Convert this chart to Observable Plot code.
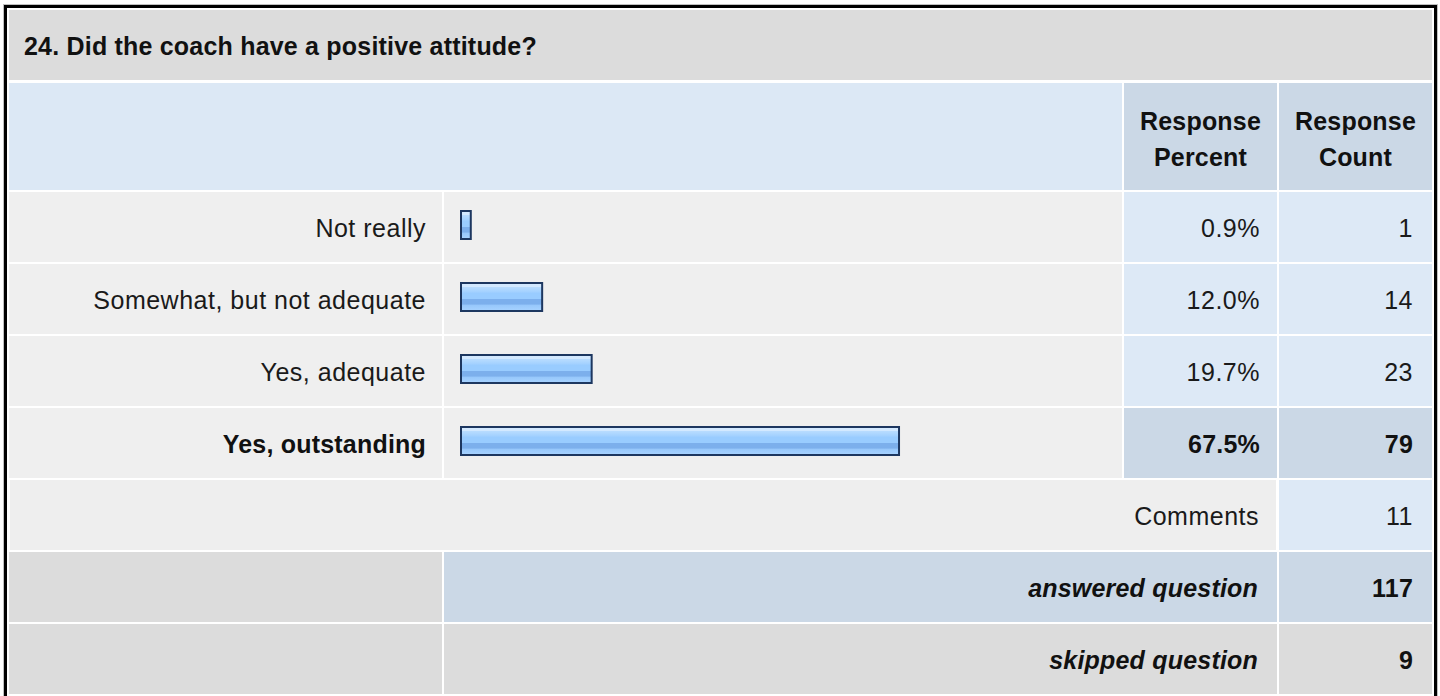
<!DOCTYPE html>
<html>
<head>
<meta charset="utf-8">
<script src="https://cdn.jsdelivr.net/npm/d3@7"></script>
<script src="https://cdn.jsdelivr.net/npm/@observablehq/plot@0.6"></script>
<style>
html, body { margin: 0; padding: 0; background: #fff; overflow: hidden; width: 1440px; height: 696px; }
body { position: relative; font-family: "Liberation Sans", Arial, Helvetica, sans-serif; color: #1a1a1a; }
.frame { position: absolute; left: 4px; top: 5px; width: 1433px; height: 694px; box-sizing: border-box; border: 3px solid #000; box-shadow: 0 0 0 1px rgba(0,0,0,0.25); }
.cell { position: absolute; display: flex; align-items: center; box-sizing: border-box; font-size: 25px; line-height: 36px; padding-top: 1px; letter-spacing: 0.5px; }
.right { justify-content: flex-end; padding-right: 17px; text-align: right; }
.center { justify-content: center; text-align: center; }
.bold { font-weight: bold; color: #111; letter-spacing: 0.2px; }
.ital { font-style: italic; }
#bars { position: absolute; left: 444px; top: 192px; }
</style>
</head>
<body>
<div class="frame"></div>
<div id="table"></div>
<div id="bars"></div>
<script>
// ---- data ----
const questionTitle = "24. Did the coach have a positive attitude?";
const headerLabels = ["Response\nPercent", "Response\nCount"];
const categories = ["Not really", "Somewhat, but not adequate", "Yes, adequate", "Yes, outstanding"];
const percents = [0.9, 12.0, 19.7, 67.5];
const counts = [1, 14, 23, 79];
const summaryLabels = ["Comments", "answered question", "skipped question"];
const summaryValues = [11, 117, 9];

// ---- layout (cell grid) ----
const colLeft = [9, 444, 1124, 1279];
const colWidth = [433, 678, 153, 153];
const rowTop = [10, 83, 192, 264, 336, 408, 480, 552, 624];
const rowHeight = [70, 107, 70, 70, 70, 70, 70, 70, 70];

const C_TITLE = "#dcdcdc", C_HEAD = "#dce8f5", C_HEAD2 = "#cbd8e6",
      C_ROW = "#efefef", C_VAL = "#dde9f6", C_HI = "#cbd8e6", C_GRAY = "#dcdcdc", C_COM = "#eeeeee";

const table = document.getElementById("table");
function cell(c0, c1, r, bg, text, cls, extraStyle) {
  const d = document.createElement("div");
  d.className = "cell " + (cls || "");
  d.style.left = colLeft[c0] + "px";
  d.style.width = (colLeft[c1] + colWidth[c1] - colLeft[c0]) + "px";
  d.style.top = rowTop[r] + "px";
  d.style.height = rowHeight[r] + "px";
  d.style.background = bg;
  if (text != null) d.textContent = text;
  if (extraStyle) Object.assign(d.style, extraStyle);
  table.appendChild(d);
  return d;
}

// title
cell(0, 3, 0, C_TITLE, questionTitle, "bold", {paddingLeft: "15px"});
// header
cell(0, 1, 1, C_HEAD, null, "");
headerLabels.forEach((h, i) => {
  const d = cell(2 + i, 2 + i, 1, C_HEAD2, null, "center bold", {whiteSpace: "pre-line", paddingTop: "4px"});
  d.textContent = h;
});
// answer rows
const maxIdx = d3.maxIndex(counts);
categories.forEach((c, i) => {
  const hi = i === maxIdx;
  cell(0, 0, 2 + i, C_ROW, c, "right" + (hi ? " bold" : ""), {paddingRight: "16px"});
  cell(1, 1, 2 + i, C_ROW, null, "");
  cell(2, 2, 2 + i, hi ? C_HI : C_VAL, percents[i].toFixed(1) + "%", "right" + (hi ? " bold" : ""));
  cell(3, 3, 2 + i, hi ? C_HI : C_VAL, String(counts[i]), "right" + (hi ? " bold" : ""), {paddingRight: "19px"});
});
// comments
cell(0, 2, 6, C_COM, summaryLabels[0], "right", {left: "10px", width: "1266px"});
cell(3, 3, 6, C_VAL, String(summaryValues[0]), "right", {paddingRight: "19px"});
// answered
cell(0, 0, 7, C_GRAY, null, "");
cell(1, 2, 7, C_HI, summaryLabels[1], "right bold ital", {paddingRight: "19px"});
cell(3, 3, 7, C_HI, String(summaryValues[1]), "right bold", {paddingRight: "19px"});
// skipped
cell(0, 0, 8, C_GRAY, null, "");
cell(1, 2, 8, C_GRAY, summaryLabels[2], "right bold ital", {paddingRight: "19px"});
cell(3, 3, 8, C_GRAY, String(summaryValues[2]), "right bold", {paddingRight: "19px"});

// ---- bars with Plot ----
const rows = categories.map((c, i) => ({category: c, percent: percents[i]}));
const barsHeight = rowTop[5] + rowHeight[5] - rowTop[2];
const chart = Plot.plot({
  width: colWidth[1],
  height: barsHeight,
  margin: 0,
  style: {background: "transparent", overflow: "visible"},
  x: {domain: [0, 100], range: [17, 660], axis: null},
  y: {domain: categories, range: [0, barsHeight], paddingInner: 2 / 72, paddingOuter: 0, round: false, axis: null},
  marks: [
    Plot.barX(rows, {
      x1: 0, x2: "percent", y: "category",
      fill: "url(#barGrad)", stroke: "#1d3760", strokeWidth: 2,
      insetTop: 19, insetBottom: 23, insetRight: -4
    })
  ]
});
const defs = d3.select(chart).insert("defs", ":first-child");
const grad = defs.append("linearGradient").attr("id", "barGrad")
  .attr("x1", 0).attr("y1", 0).attr("x2", 0).attr("y2", 1);
[[0, "#d3e9ff"], [0.14, "#d3e9ff"], [0.15, "#b8dcff"], [0.32, "#a3d1ff"], [0.36, "#99ccff"],
 [0.56, "#99ccff"], [0.58, "#7cafec"], [0.76, "#7cafec"], [0.78, "#96c7fb"], [1, "#a8d3ff"]]
  .forEach(([o, c]) => grad.append("stop").attr("offset", o).attr("stop-color", c));
document.getElementById("bars").appendChild(chart);
</script>
</body>
</html>
